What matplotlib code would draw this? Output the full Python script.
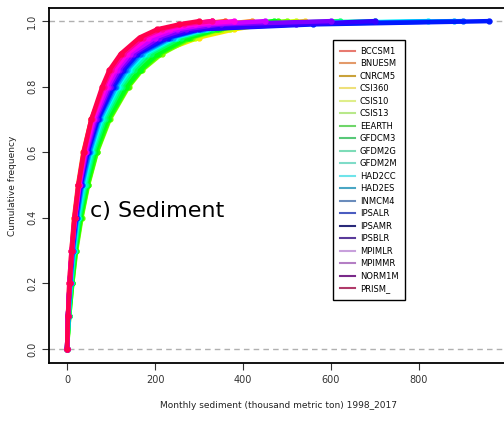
import matplotlib.pyplot as plt
from matplotlib.lines import Line2D

# cumulative frequency levels and monthly sediment (thousand metric ton)
probs = [0, 0.1, 0.2, 0.3, 0.4, 0.5, 0.6, 0.7, 0.8, 0.85, 0.9, 0.95, 0.975, 0.99, 1.0]

models = [
    "BCCSM1", "BNUESM", "CNRCM5", "CSI360", "CSIS10", "CSIS13", "EEARTH",
    "GFDCM3", "GFDM2G", "GFDM2M", "HAD2CC", "HAD2ES", "INMCM4", "IPSALR",
    "IPSAMR", "IPSBLR", "MPIMLR", "MPIMMR", "NORM1M", "PRISM_",
]

bccsm1 = [0, 2, 6, 11, 18, 27, 40, 57, 84, 100, 128, 175, 220, 270, 330]
bnuesm = [0, 2, 5, 10, 16, 25, 37, 55, 85, 103, 132, 180, 230, 290, 360]
cnrcm5 = [0, 3, 8, 14, 23, 36, 52, 75, 110, 135, 170, 230, 290, 350, 420]
csi360 = [0, 3, 7, 13, 22, 35, 55, 82, 125, 155, 200, 300, 380, 450, 540]
csis10 = [0, 4, 10, 17, 28, 42, 62, 90, 132, 162, 205, 290, 370, 440, 520]
csis13 = [0, 5, 12, 21, 33, 48, 68, 97, 140, 170, 215, 285, 350, 420, 500]
eearth = [0, 5, 12, 20, 32, 47, 67, 95, 138, 168, 210, 280, 345, 410, 480]
gfdcm3 = [0, 4, 11, 19, 30, 45, 64, 92, 135, 165, 205, 275, 340, 400, 470]
gfdm2g = [0, 4, 10, 17, 28, 42, 60, 86, 125, 152, 190, 260, 330, 400, 620]
gfdm2m = [0, 4, 9, 16, 26, 40, 57, 82, 120, 146, 182, 250, 320, 390, 700]
had2cc = [0, 3, 8, 15, 24, 37, 54, 78, 115, 140, 175, 245, 315, 380, 820]
had2es = [0, 3, 8, 14, 23, 35, 52, 75, 112, 136, 170, 240, 310, 400, 880]
inmcm4 = [0, 3, 7, 13, 22, 33, 50, 72, 108, 132, 165, 235, 305, 480, 900]
ipsalr = [0, 2, 6, 12, 20, 31, 47, 70, 105, 128, 160, 230, 300, 560, 960]
ipsamr = [0, 2, 6, 11, 19, 30, 45, 67, 100, 123, 155, 220, 290, 520, 700]
ipsblr = [0, 2, 6, 11, 19, 29, 44, 65, 97, 118, 150, 210, 270, 350, 600]
mpimlr = [0, 2, 6, 11, 18, 28, 42, 62, 93, 113, 143, 200, 250, 320, 450]
mpimmr = [0, 2, 6, 11, 18, 27, 40, 59, 88, 107, 136, 185, 235, 290, 380]
norm1m = [0, 2, 5, 10, 17, 26, 39, 56, 83, 100, 128, 172, 215, 265, 330]
prism_ = [0, 2, 6, 11, 17, 26, 38, 55, 80, 96, 122, 165, 205, 255, 300]

series = [
    bccsm1, bnuesm, cnrcm5, csi360, csis10, csis13, eearth, gfdcm3, gfdm2g,
    gfdm2m, had2cc, had2es, inmcm4, ipsalr, ipsamr, ipsblr, mpimlr, mpimmr,
    norm1m, prism_,
]

colors = [
    "#FF0000", "#FF4D00", "#FF9900", "#FFE500", "#CCFF00", "#80FF00", "#33FF00",
    "#00FF19", "#00FF66", "#00FFB2", "#00FFFF", "#00B3FF", "#0066FF", "#0019FF",
    "#3300FF", "#7F00FF", "#CC00FF", "#FF00E6", "#FF0099", "#FF004D",
]

legend_colors = [
    "#e87a70", "#e39a6a", "#c9a23a", "#eee07a", "#dfee8a", "#b8e88a", "#6fd66a",
    "#58c878", "#7ddcb8", "#7fdcc8", "#6fe4ea", "#4aa6c4", "#6a8cbc", "#4a5cc0",
    "#2a2a7a", "#5a3a9a", "#c8a0dc", "#b47ec4", "#7a2a8a", "#b03a6a",
]

fig = plt.figure(figsize=(5.04, 4.25), dpi=100)
ax = fig.add_axes([49 / 504, 1 - 363 / 425, 458 / 504, 355 / 425])

ax.axhline(0, color="#b0b0b0", linestyle=(0, (4, 3)), linewidth=1.0, zorder=1)
ax.axhline(1, color="#b0b0b0", linestyle=(0, (4, 3)), linewidth=1.0, zorder=1)

for values, color in zip(series, colors):
    ax.plot(values, probs, color=color, linewidth=3.2, marker="o",
            markersize=3.5, solid_capstyle="round", zorder=2)

ax.set_xlim(-41, 1000)
ax.set_ylim(-0.043, 1.04)
ax.set_xticks([0, 200, 400, 600, 800])
ax.set_yticks([0.0, 0.2, 0.4, 0.6, 0.8, 1.0])
ax.set_yticklabels(["0.0", "0.2", "0.4", "0.6", "0.8", "1.0"], rotation=90,
                   va="center")
ax.tick_params(labelsize=7, length=5, width=0.8, colors="#333333")
for spine in ax.spines.values():
    spine.set_linewidth(1.3)

ax.set_xlabel("Monthly sediment (thousand metric ton) 1998_2017", fontsize=6.5,
              labelpad=12, color="#222222")
ax.set_ylabel("Cumulative frequency", fontsize=6.5, labelpad=7,
              color="#222222")

handles = [Line2D([], [], color=c, linewidth=1.5) for c in legend_colors]
ax.legend(
    handles, models,
    loc="upper left",
    bbox_to_anchor=(333 / 504, 1 - 40 / 425),
    bbox_transform=fig.transFigure,
    borderaxespad=0,
    fontsize=6,
    labelspacing=0.42,
    handlelength=1.8,
    handletextpad=0.6,
    borderpad=0.8,
    fancybox=False,
    edgecolor="black",
    framealpha=1,
)

fig.text(90 / 504, 1 - 211 / 425, "c) Sediment", fontsize=16, va="center",
         ha="left", color="black")

fig.savefig("out.png", dpi=100)
